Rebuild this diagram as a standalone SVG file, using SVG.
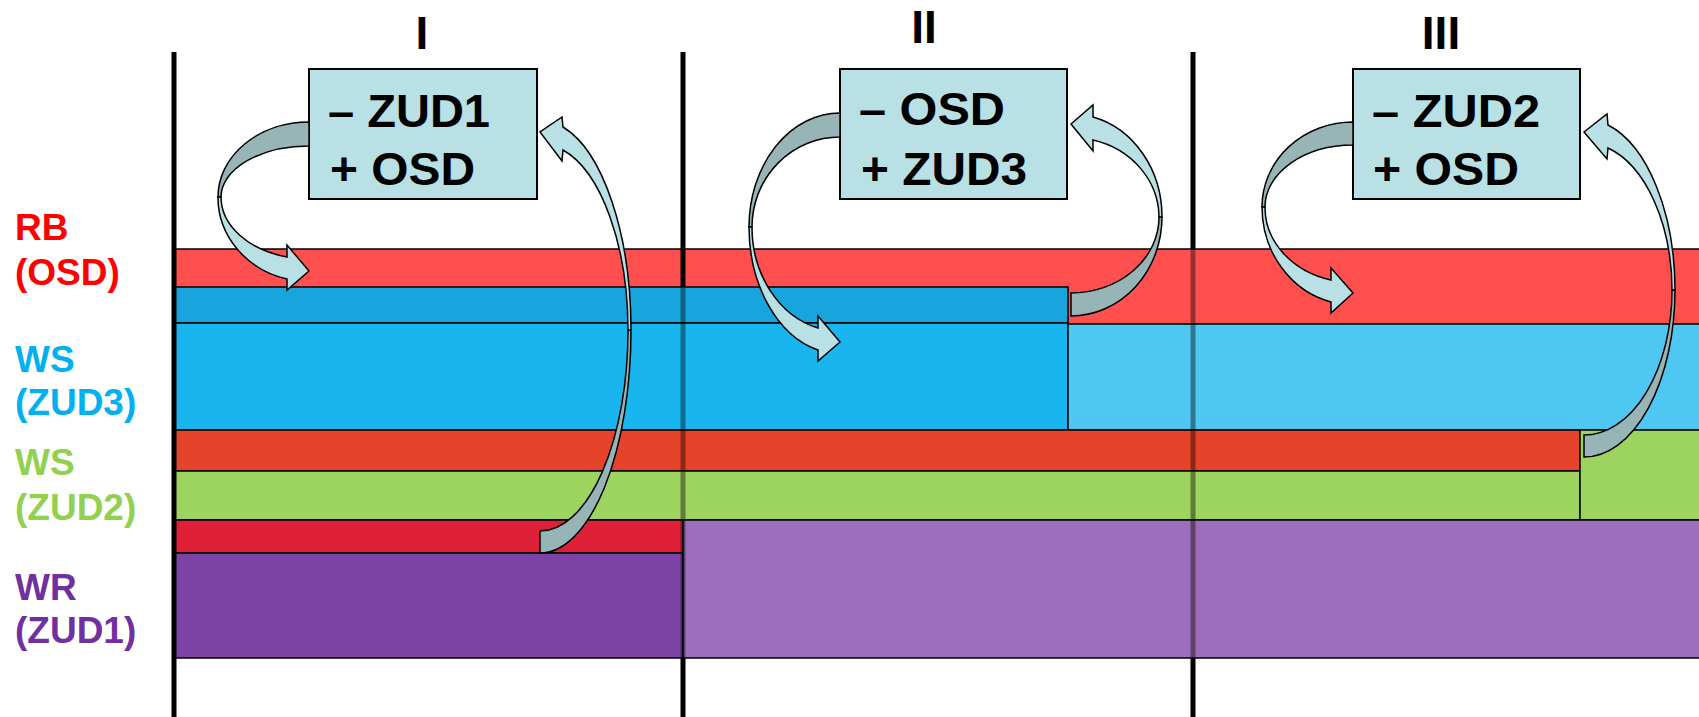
<svg xmlns="http://www.w3.org/2000/svg" width="1699" height="717" viewBox="0 0 1699 717">
<style>
.vl{stroke:#000;stroke-width:5;fill:none}
.vo{stroke:#000;stroke-width:5;stroke-opacity:0.4;fill:none}
.bar{stroke:#000;stroke-width:1.5}
.box{fill:#B9E0E4;stroke:#000;stroke-width:2}
.bt{font-family:"Liberation Sans",Arial,sans-serif;font-weight:bold;font-size:46px;fill:#000}
.num{font-family:"Liberation Sans",Arial,sans-serif;font-weight:bold;font-size:46px;fill:#000;text-anchor:middle}
.lab{font-family:"Liberation Sans",Arial,sans-serif;font-weight:bold;font-size:37px}
.al{fill:#B9E0E4;stroke:#000;stroke-width:1.5;stroke-linejoin:miter}
.ad{fill:#97B4B6;stroke:#000;stroke-width:1.5;stroke-linejoin:miter}
</style>
<rect width="1699" height="717" fill="#fff"/>
<g id="dividers">
<line class="vl" x1="683" y1="52" x2="683" y2="717"/>
<line class="vl" x1="1193" y1="52" x2="1193" y2="717"/>
</g>
<g id="bars">
<rect id="bar-rb" class="bar" x="175" y="249" width="1540" height="75" fill="#FF4F4F"/>
<rect id="bar-ws3-top" class="bar" x="175" y="287" width="893" height="36" fill="#18A4DC"/>
<rect id="bar-ws3" class="bar" x="175" y="323" width="893" height="107" fill="#19B5EF"/>
<rect id="bar-ws3-right" class="bar" x="1068" y="324" width="647" height="106" fill="#4EC7F3"/>
<rect id="bar-ws2-top" class="bar" x="175" y="430" width="1405" height="41" fill="#E5432A"/>
<rect id="bar-ws2" class="bar" x="175" y="471" width="1405" height="49" fill="#9DD460"/>
<rect id="bar-ws2-right" class="bar" x="1580" y="430" width="135" height="90" fill="#9DD460"/>
<rect id="bar-wr-top" class="bar" x="175" y="520" width="508" height="33" fill="#E02038"/>
<rect id="bar-wr" class="bar" x="175" y="553" width="508" height="105" fill="#7C43A6"/>
<rect id="bar-wr-right" class="bar" x="683" y="520" width="1032" height="138" fill="#9B6FBB"/>
</g>
<g id="divider-overlay">
<line class="vl" x1="174" y1="52" x2="174" y2="717"/>
<line class="vl" x1="683" y1="249" x2="683" y2="287"/>
<line class="vo" x1="683" y1="287" x2="683" y2="658"/>
<line class="vo" x1="1193" y1="249" x2="1193" y2="658"/>
</g>
<g id="phase-labels">
<text class="num" x="422" y="49">I</text>
<text class="num" x="924" y="43">II</text>
<text class="num" x="1441" y="49">III</text>
</g>
<g id="row-labels">
<text class="lab" fill="#FF0000"><tspan x="15" y="240">RB</tspan><tspan x="15" y="285">(OSD)</tspan></text>
<text class="lab" fill="#00B0F0"><tspan x="15" y="372">WS</tspan><tspan x="15" y="415">(ZUD3)</tspan></text>
<text class="lab" fill="#92D050"><tspan x="15" y="475">WS</tspan><tspan x="15" y="520">(ZUD2)</tspan></text>
<text class="lab" fill="#7030A0"><tspan x="15" y="600">WR</tspan><tspan x="15" y="643">(ZUD1)</tspan></text>
</g>
<g id="box1">
<rect class="box" x="309" y="69" width="228" height="130"/>
<text class="bt" x="328" y="127" textLength="162" lengthAdjust="spacingAndGlyphs">– ZUD1</text>
<text class="bt" x="330" y="185" textLength="145" lengthAdjust="spacingAndGlyphs">+ OSD</text>
</g>
<g id="box2">
<rect class="box" x="840" y="69" width="227" height="130"/>
<text class="bt" x="859" y="125" textLength="146" lengthAdjust="spacingAndGlyphs">– OSD</text>
<text class="bt" x="861" y="185" textLength="166" lengthAdjust="spacingAndGlyphs">+ ZUD3</text>
</g>
<g id="box3">
<rect class="box" x="1353" y="69" width="227" height="130"/>
<text class="bt" x="1372" y="127" textLength="168" lengthAdjust="spacingAndGlyphs">– ZUD2</text>
<text class="bt" x="1373" y="185" textLength="146" lengthAdjust="spacingAndGlyphs">+ OSD</text>
</g>
<g id="connectors">
<path class="ad" d="M309,122 A91,75 0 0 0 218,197 L221,197 A88,51 0 0 1 309,146 Z"/>
<path class="al" d="M218,197 A91,84 0 0 0 287,279 L287,290 L309,271 L287,245 L287,257 A88,62 0 0 1 221,197 Z"/>
<path class="ad" d="M540,553 A91,223 0 0 0 631,330 L628,330 A88,201 0 0 1 540,531 Z"/>
<path class="al" d="M631,330 A91,210 0 0 0 563,127 L562,117 L540,132 L562,161 L563,150 A87,187 0 0 1 628,330 Z"/>
<path class="ad" d="M840,113 A91,114 0 0 0 749,227 L752,227 A88,90 0 0 1 840,137 Z"/>
<path class="al" d="M749,227 A91,127 0 0 0 818,350 L818,361 L840,342 L818,316 L818,328 A88,104 0 0 1 752,227 Z"/>
<path class="ad" d="M1071,316 A91,99 0 0 0 1162,217 L1159,217 A88,76 0 0 1 1071,293 Z"/>
<path class="al" d="M1162,217 A91,103 0 0 0 1093,117 L1093,105 L1071,124 L1093,151 L1093,140 A87,80 0 0 1 1159,217 Z"/>
<path class="ad" d="M1353,122 A91,85 0 0 0 1262,207 L1265,207 A88,62 0 0 1 1353,145 Z"/>
<path class="al" d="M1262,207 A91,98 0 0 0 1331,302 L1331,313 L1353,293 L1331,268 L1331,280 A88,75 0 0 1 1265,207 Z"/>
<path class="ad" d="M1584,457 A91,167 0 0 0 1675,290 L1672,290 A88,145 0 0 1 1584,435 Z"/>
<path class="al" d="M1675,290 A91,171 0 0 0 1608,125 L1607,114 L1584,132 L1607,159 L1608,148 A87,148 0 0 1 1672,290 Z"/>
</g>
</svg>
